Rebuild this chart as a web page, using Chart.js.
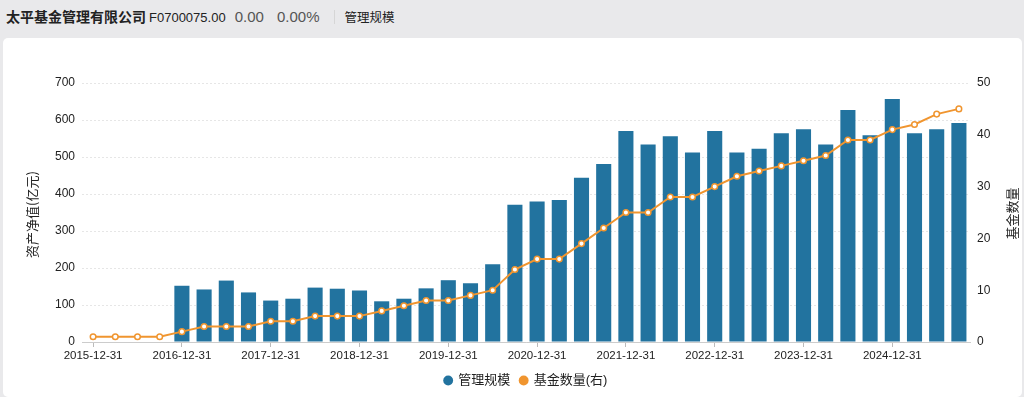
<!DOCTYPE html>
<html>
<head>
<meta charset="utf-8">
<script src="https://cdn.jsdelivr.net/npm/chart.js@4"></script>
<style>
    body { margin: 0; width: 1024px; height: 397px; background: #e9e9eb; overflow: hidden;
           font-family: "Helvetica Neue", Arial, "Noto Sans CJK SC", sans-serif; }
    #header { position: absolute; left: 6px; top: 0; height: 36px; line-height: 34px; white-space: nowrap; color: #222; }
    #header .name { font-weight: bold; font-size: 14px; }
    #header .code { font-size: 13px; margin-left: 3px; }
    #header .num { font-size: 15px; color: #555; margin-left: 9px; }
    #header .sep { display: inline-block; width: 1px; height: 14px; background: #d6d6d6; margin: 0 10px 0 14px; vertical-align: -2px; }
    #header .tab { font-size: 12.5px; }
    #card { position: absolute; left: 3px; top: 38px; width: 1019px; height: 359px; background: #fff; border-radius: 5px; }
</style>
</head>
<body>
<div id="header">
    <span class="name">太平基金管理有限公司</span><span class="code">F0700075.00</span><span class="num">0.00</span><span class="num">&nbsp;0.00%</span><span class="sep"></span><span class="tab">管理规模</span>
</div>
<div id="card"><canvas id="chart" width="1019" height="359"></canvas></div>
<script>
// quarterly dates, 2015-12-31 .. 2025-09-30
const quarters = [
    '2015-12-31', '2016-03-31', '2016-06-30', '2016-09-30',
    '2016-12-31', '2017-03-31', '2017-06-30', '2017-09-30',
    '2017-12-31', '2018-03-31', '2018-06-30', '2018-09-30',
    '2018-12-31', '2019-03-31', '2019-06-30', '2019-09-30',
    '2019-12-31', '2020-03-31', '2020-06-30', '2020-09-30',
    '2020-12-31', '2021-03-31', '2021-06-30', '2021-09-30',
    '2021-12-31', '2022-03-31', '2022-06-30', '2022-09-30',
    '2022-12-31', '2023-03-31', '2023-06-30', '2023-09-30',
    '2023-12-31', '2024-03-31', '2024-06-30', '2024-09-30',
    '2024-12-31', '2025-03-31', '2025-06-30', '2025-09-30'
];

// 管理规模 (亿元)
const assets = [
    null, null, null, null,
    152, 142, 166, 134,
    112, 117, 147, 144,
    139, 110, 117, 145,
    167, 159, 210, 371,
    380, 384, 444, 481,
    570, 534, 556, 512,
    570, 512, 522, 564,
    575, 534, 627, 559,
    657, 564, 575, 592
];

// 基金数量 (右轴)
const fundCount = [
    1, 1, 1, 1,
    2, 3, 3, 3,
    4, 4, 5, 5,
    5, 6, 7, 8,
    8, 9, 10, 14,
    16, 16, 19, 22,
    25, 25, 28, 28,
    30, 32, 33, 34,
    35, 36, 39, 39,
    41, 42, 44, 45
];

const leftTicks = [0, 100, 200, 300, 400, 500, 600, 700];
const rightTicks = [0, 10, 20, 30, 40, 50];

const blue = '#22739f';
const orange = '#f0952f';
const fontFamily = '"Helvetica Neue", Arial, "Noto Sans CJK SC", sans-serif';

// draws both y axis titles, reading bottom to top
const axisTitles = {
    id: 'axisTitles',
    afterDraw(chart) {
        let ctx = chart.ctx;
        let midY = (chart.chartArea.top + chart.chartArea.bottom) / 2;
        ctx.save();
        ctx.fillStyle = '#222';
        ctx.font = '13px "Noto Sans CJK SC", sans-serif';
        ctx.textAlign = 'center';
        ctx.textBaseline = 'middle';
        ctx.translate(29, midY + 2);
        ctx.rotate(-Math.PI / 2);
        ctx.fillText('资产净值(亿元)', 0, 0);
        ctx.restore();
        ctx.save();
        ctx.fillStyle = '#222';
        ctx.font = '13px "Noto Sans CJK SC", sans-serif';
        ctx.textAlign = 'center';
        ctx.textBaseline = 'middle';
        ctx.translate(1009, midY + 1);
        ctx.rotate(-Math.PI / 2);
        ctx.fillText('基金数量', 0, 0);
        ctx.restore();
    }
};

const data = {
    labels: quarters,
    datasets: [
        {
            type: 'bar',
            label: '管理规模',
            data: assets,
            backgroundColor: blue,
            borderWidth: 0,
            barPercentage: 0.68,
            categoryPercentage: 1.0,
            yAxisID: 'y',
            order: 2
        },
        {
            type: 'line',
            label: '基金数量(右)',
            data: fundCount,
            borderColor: orange,
            backgroundColor: orange,
            borderWidth: 2,
            pointRadius: 2.8,
            pointBackgroundColor: '#fff',
            pointBorderColor: orange,
            pointBorderWidth: 1.5,
            tension: 0,
            yAxisID: 'y1',
            order: 1
        }
    ]
};

const config = {
    type: 'bar',
    data: data,
    options: {
        responsive: false,
        animation: false,
        layout: { padding: { top: 45, bottom: 0, left: 0, right: 0 } },
        plugins: {
            tooltip: { enabled: false },
            legend: {
                position: 'bottom',
                fullSize: false,
                labels: {
                    usePointStyle: true,
                    pointStyle: 'circle',
                    boxWidth: 7,
                    boxHeight: 7,
                    padding: 10,
                    color: '#222',
                    font: { size: 13, family: fontFamily },
                    generateLabels: function(chart) {
                        let items = Chart.defaults.plugins.legend.labels.generateLabels(chart);
                        items.forEach(function(item) {
                            let ds = chart.data.datasets[item.datasetIndex];
                            item.fillStyle = ds.type === 'line' ? ds.borderColor : ds.backgroundColor;
                            item.strokeStyle = item.fillStyle;
                            item.lineWidth = 0;
                        });
                        items.sort((a, b) => a.datasetIndex - b.datasetIndex);
                        return items;
                    }
                }
            }
        },
        scales: {
            x: {
                grid: {
                    offset: false,
                    drawOnChartArea: false,
                    tickLength: 5,
                    tickColor: (ctx) => (ctx.index % 4 === 0 ? '#bbb' : 'rgba(0,0,0,0)')
                },
                border: { color: '#ccc' },
                ticks: {
                    autoSkip: false,
                    maxRotation: 0,
                    padding: 2,
                    color: '#222',
                    font: { size: 11.5, family: fontFamily },
                    callback: function(value, index) {
                        return index % 4 === 0 ? quarters[index] : '';
                    }
                },
                afterFit: function(scale) { scale.height = 22; }
            },
            y: {
                position: 'left',
                min: 0,
                max: 700,
                afterBuildTicks: function(scale) {
                    scale.ticks = leftTicks.map((v) => ({ value: v }));
                },
                grid: { color: '#e6e6e6', drawTicks: false },
                border: { display: false, dash: [2, 2] },
                ticks: { padding: 7, color: '#222', font: { size: 12, family: fontFamily } },
                afterFit: function(scale) { scale.width = 79; }
            },
            y1: {
                position: 'right',
                min: 0,
                max: 50,
                afterBuildTicks: function(scale) {
                    scale.ticks = rightTicks.map((v) => ({ value: v }));
                },
                grid: { drawOnChartArea: false, drawTicks: false },
                border: { display: false },
                ticks: { padding: 7, color: '#222', font: { size: 12, family: fontFamily } },
                afterFit: function(scale) { scale.width = 52; }
            }
        }
    },
    plugins: [axisTitles]
};

const myChart = new Chart(document.getElementById('chart'), config);
</script>
</body>
</html>
